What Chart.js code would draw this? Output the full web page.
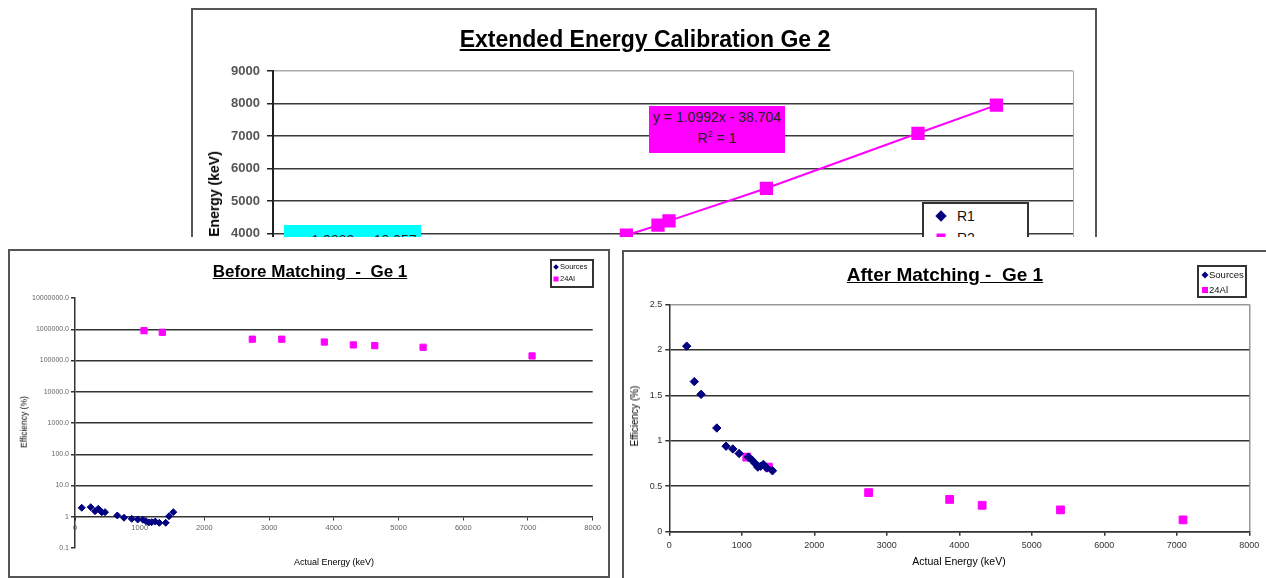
<!DOCTYPE html>
<html lang="en">
<head>
<meta charset="utf-8">
<title>Energy calibration Ge</title>
<script src="https://cdn.jsdelivr.net/npm/chart.js@4.4.1/dist/chart.umd.min.js"></script>
<style>
  html, body { margin: 0; padding: 0; background: #fff; }
  body { position: relative; width: 1266px; height: 578px; overflow: hidden;
         font-family: "Liberation Sans", Arial, sans-serif; color: #000; }
  .clip { position: absolute; left: 0; top: 0; width: 1266px; height: 237px; overflow: hidden; }
  .frame { position: absolute; box-sizing: border-box; border: 2px solid #555; background: #fff; }
  .frame canvas { display: block; }
  .t { position: absolute; white-space: nowrap; line-height: 1; }
  .title { font-weight: bold; text-decoration: underline; transform: translateX(-50%); }
  .ytitle { transform: translate(-50%, -50%) rotate(-90deg); }
  .xtitle { transform: translate(-50%, -50%); }
  .eq { position: absolute; box-sizing: border-box; text-align: center; color: #222; font-size: 14px; line-height: 15px; }
  .legend { position: absolute; box-sizing: border-box; border: 2px solid #333; background: #fff; }
  .mk { position: absolute; transform: translate(-50%, -50%); }
  .dia { background: #000080; transform: translate(-50%, -50%) rotate(45deg); }
  .sq { background: #ff00ff; }
  .lt { position: absolute; white-space: nowrap; transform: translateY(-50%); line-height: 1; color: #111; }
</style>
</head>
<body>

<!-- top chart, cut off by the two charts pasted below it -->
<div class="clip">
  <div class="frame" style="left:191px;top:8px;width:906px;height:440px">
    <canvas id="chartCal" width="902" height="436"></canvas>
  </div>
  <div class="t title" style="left:645px;top:28px;font-size:23px">Extended Energy Calibration Ge 2</div>
  <div class="t ytitle" style="left:214px;top:194px;font-size:14px;font-weight:bold">Energy (keV)</div>
  <div class="eq" style="left:649px;top:106px;width:136px;height:47px;background:#ff00ff">
    <div style="margin-top:4px">y = 1.0992x - 38.704</div>
    <div style="margin-top:6px">R<sup style="font-size:9px;vertical-align:6px;line-height:0">2</sup> = 1</div>
  </div>
  <div class="eq" style="left:284px;top:225px;width:137px;height:40px;background:#00ffff">
    <div style="margin-top:8px">y = 1.0882x - 18.957</div>
  </div>
  <div class="legend" style="left:922px;top:202px;width:107px;height:60px">
    <div class="mk dia" style="left:17px;top:12px;width:8px;height:8px"></div>
    <div class="lt" style="left:33px;top:12px;font-size:14px">R1</div>
    <div class="mk sq" style="left:17px;top:34px;width:9px;height:9px"></div>
    <div class="lt" style="left:33px;top:34px;font-size:14px">R2</div>
  </div>
</div>

<!-- before matching -->
<div class="frame" style="left:8px;top:249px;width:602px;height:329px">
  <canvas id="chartBefore" width="598" height="325"></canvas>
</div>
<div class="t title" style="left:310px;top:263px;font-size:17px">Before Matching&nbsp; -&nbsp; Ge 1</div>
<div class="t ytitle" style="left:24px;top:422px;font-size:8.5px">Efficiency (%)</div>
<div class="t xtitle" style="left:334px;top:562px;font-size:9px">Actual Energy (keV)</div>
<div class="legend" style="left:550px;top:259px;width:44px;height:29px">
  <div class="mk dia" style="left:4px;top:6px;width:4px;height:4px"></div>
  <div class="lt" style="left:8px;top:6px;font-size:7.5px">Sources</div>
  <div class="mk sq" style="left:4px;top:18px;width:5px;height:5px"></div>
  <div class="lt" style="left:8px;top:18px;font-size:7.5px">24Al</div>
</div>

<!-- after matching -->
<div class="frame" style="left:622px;top:250px;width:700px;height:340px">
  <canvas id="chartAfter" width="696" height="336"></canvas>
</div>
<div class="t title" style="left:945px;top:265px;font-size:19px">After Matching -&nbsp; Ge 1</div>
<div class="t ytitle" style="left:635px;top:416px;font-size:10px">Efficiency (%)</div>
<div class="t xtitle" style="left:959px;top:561px;font-size:10.5px">Actual Energy (keV)</div>
<div class="legend" style="left:1197px;top:265px;width:50px;height:33px">
  <div class="mk dia" style="left:6px;top:8px;width:5px;height:5px"></div>
  <div class="lt" style="left:10px;top:8px;font-size:9.5px">Sources</div>
  <div class="mk sq" style="left:6px;top:23px;width:6px;height:6px"></div>
  <div class="lt" style="left:10px;top:23px;font-size:9.5px">24Al</div>
</div>

<script>
Chart.defaults.font.family = "'Liberation Sans', Arial, sans-serif";
Chart.defaults.animation = false;

// Extended Energy Calibration Ge 2 (only the part above ~3900 keV is visible)
const calChannelR2 = [3534, 3850, 3960, 4934, 6450, 7234];
const calEnergyR2 = [3948, 4255, 4388, 5391, 7083, 7951];
const calEnergyTicks = [0, 1000, 2000, 3000, 4000, 5000, 6000, 7000, 8000, 9000];
const calChannelTicks = [0, 1000, 2000, 3000, 4000, 5000, 6000, 7000, 8000];

// Before Matching - Ge 1
const beforeSrcEnergy = [104, 243, 309, 360, 413, 464, 654, 757, 876, 969, 1050, 1097, 1140, 1185, 1240, 1303, 1402, 1453, 1519];
const beforeSrcEff = [1.94, 2.03, 1.51, 1.80, 1.40, 1.40, 1.10, 0.93, 0.86, 0.82, 0.80, 0.72, 0.66, 0.67, 0.70, 0.64, 0.64, 1.04, 1.40];
const beforeAlEnergy = [1066, 1349, 2740, 3195, 3853, 4301, 4632, 5379, 7063];
const beforeAlEff = [900000, 800000, 480000, 480000, 390000, 315000, 300000, 265000, 140000];
const beforeEffTicks = [0.1, 1, 10, 100, 1000, 10000, 100000, 1000000, 10000000];
const beforeEffLabels = ["0.1", "1", "10.0", "100.0", "1000.0", "10000.0", "100000.0", "1000000.0", "10000000.0"];
const energyTicks = [0, 1000, 2000, 3000, 4000, 5000, 6000, 7000, 8000];

// After Matching - Ge 1
const afterSrcEnergy = [240, 345, 438, 655, 783, 876, 963, 1091, 1138, 1184, 1221, 1260, 1298, 1345, 1423];
const afterSrcEff = [2.04, 1.65, 1.51, 1.14, 0.94, 0.91, 0.86, 0.82, 0.79, 0.75, 0.71, 0.72, 0.74, 0.70, 0.67];
const afterAlEnergy = [1069, 1367, 2749, 3867, 4315, 5396, 7086];
const afterAlEff = [0.82, 0.71, 0.43, 0.355, 0.29, 0.24, 0.13];
const afterEffTicks = [0, 0.5, 1, 1.5, 2, 2.5];

const NAVY = "#000080";
const PINK = "#ff00ff";

function pts(xs, ys) {
  return xs.map((x, i) => ({ x, y: ys[i] }));
}

// fixed axis sizes so the plot area lands where the picture has it
function fitY(width) {
  return (s) => { s.width = width; s.paddingTop = 0; s.paddingBottom = 0; };
}
function fitX(height) {
  return (s) => { s.height = height; s.paddingLeft = 0; s.paddingRight = 0; };
}
function useTicks(list) {
  return (s) => { s.ticks = list.map((v) => ({ value: v })); };
}

new Chart(document.getElementById("chartCal"), {
  type: "scatter",
  data: {
    datasets: [
      {
        label: "R1",
        data: [],
        backgroundColor: NAVY,
        pointStyle: "rectRot",
        pointRadius: 5
      },
      {
        label: "R2",
        data: pts(calChannelR2, calEnergyR2),
        showLine: true,
        borderColor: PINK,
        borderWidth: 2,
        backgroundColor: PINK,
        pointBorderColor: PINK,
        pointStyle: "rect",
        pointRadius: 8
      }
    ]
  },
  options: {
    responsive: false,
    layout: { padding: { top: 61, right: 22, bottom: 52.5, left: 0 } },
    plugins: { legend: { display: false }, tooltip: { enabled: false } },
    scales: {
      x: {
        min: 0,
        max: 8000,
        afterFit: fitX(30),
        afterBuildTicks: useTicks(calChannelTicks),
        border: { color: "#222", width: 2 },
        grid: {
          color: (c) => (c.tick && c.tick.value === 8000 ? "#aaa" : "rgba(0,0,0,0)"),
          tickColor: "#222",
          tickLength: 6
        },
        ticks: { color: "#555", font: { size: 13, weight: "bold" }, maxRotation: 0, autoSkip: false, callback: (v) => String(v) }
      },
      y: {
        min: 0,
        max: 9000,
        afterFit: fitY(80),
        afterBuildTicks: useTicks(calEnergyTicks),
        border: { color: "#222", width: 2 },
        grid: {
          color: (c) => (c.tick && c.tick.value === 9000 ? "#aaa" : "#3a3a3a"),
          lineWidth: 1.5,
          tickColor: "#222",
          tickLength: 6
        },
        ticks: { color: "#555", padding: 7, font: { size: 13, weight: "bold" }, autoSkip: false, callback: (v) => String(v) }
      }
    }
  }
});

new Chart(document.getElementById("chartBefore"), {
  type: "scatter",
  data: {
    datasets: [
      {
        label: "Sources",
        data: pts(beforeSrcEnergy, beforeSrcEff),
        backgroundColor: NAVY,
        borderColor: NAVY,
        pointStyle: "rectRot",
        pointRadius: 3.5
      },
      {
        label: "24Al",
        data: pts(beforeAlEnergy, beforeAlEff),
        backgroundColor: PINK,
        borderColor: PINK,
        pointStyle: "rect",
        pointRadius: 4.4
      }
    ]
  },
  options: {
    responsive: false,
    layout: { padding: { top: 47, right: 15.3, bottom: 28, left: 0 } },
    plugins: { legend: { display: false }, tooltip: { enabled: false } },
    scales: {
      x: {
        position: { y: 1 },
        min: 0,
        max: 8000,
        afterFit: fitX(20),
        afterBuildTicks: useTicks(energyTicks),
        border: { color: "#333", width: 1.5 },
        grid: { drawOnChartArea: false, tickColor: "#333", tickLength: 3 },
        ticks: { color: "#666", padding: 4, font: { size: 7.5 }, maxRotation: 0, autoSkip: false, callback: (v) => String(v) }
      },
      y: {
        type: "logarithmic",
        min: 0.1,
        max: 10000000,
        afterFit: fitY(65),
        afterBuildTicks: useTicks(beforeEffTicks),
        border: { color: "#333", width: 1.5 },
        grid: {
          color: (c) => (c.tick && c.tick.value >= 10 && c.tick.value <= 1000000 ? "#333" : "rgba(0,0,0,0)"),
          lineWidth: 1.5,
          tickColor: "#333",
          tickLength: 4
        },
        ticks: { color: "#666", padding: 2, font: { size: 7 }, autoSkip: false, callback: (v, i) => beforeEffLabels[i] }
      }
    }
  }
});

new Chart(document.getElementById("chartAfter"), {
  type: "scatter",
  data: {
    datasets: [
      {
        label: "Sources",
        data: pts(afterSrcEnergy, afterSrcEff),
        backgroundColor: NAVY,
        borderColor: NAVY,
        pointStyle: "rectRot",
        pointRadius: 4.2
      },
      {
        label: "24Al",
        data: pts(afterAlEnergy, afterAlEff),
        backgroundColor: PINK,
        borderColor: PINK,
        pointStyle: "rect",
        pointRadius: 5.5
      }
    ]
  },
  options: {
    responsive: false,
    layout: { padding: { top: 52.3, right: 70.7, bottom: 26.3, left: 0 } },
    plugins: { legend: { display: false }, tooltip: { enabled: false } },
    scales: {
      x: {
        min: 0,
        max: 8000,
        afterFit: fitX(30),
        afterBuildTicks: useTicks(energyTicks),
        border: { color: "#333", width: 1.5 },
        grid: {
          color: (c) => (c.tick && c.tick.value === 8000 ? "#999" : "rgba(0,0,0,0)"),
          lineWidth: 1.5,
          tickColor: "#333",
          tickLength: 4
        },
        ticks: { color: "#333", padding: 4, font: { size: 9 }, maxRotation: 0, autoSkip: false, callback: (v) => String(v) }
      },
      y: {
        min: 0,
        max: 2.5,
        afterFit: fitY(45.3),
        afterBuildTicks: useTicks(afterEffTicks),
        border: { color: "#333", width: 1.5 },
        grid: {
          color: (c) => (c.tick && c.tick.value === 2.5 ? "#999" : "#333"),
          lineWidth: 1.5,
          tickColor: "#333",
          tickLength: 4
        },
        ticks: { color: "#333", padding: 3, font: { size: 9 }, autoSkip: false, callback: (v) => String(v) }
      }
    }
  }
});
</script>
</body>
</html>
